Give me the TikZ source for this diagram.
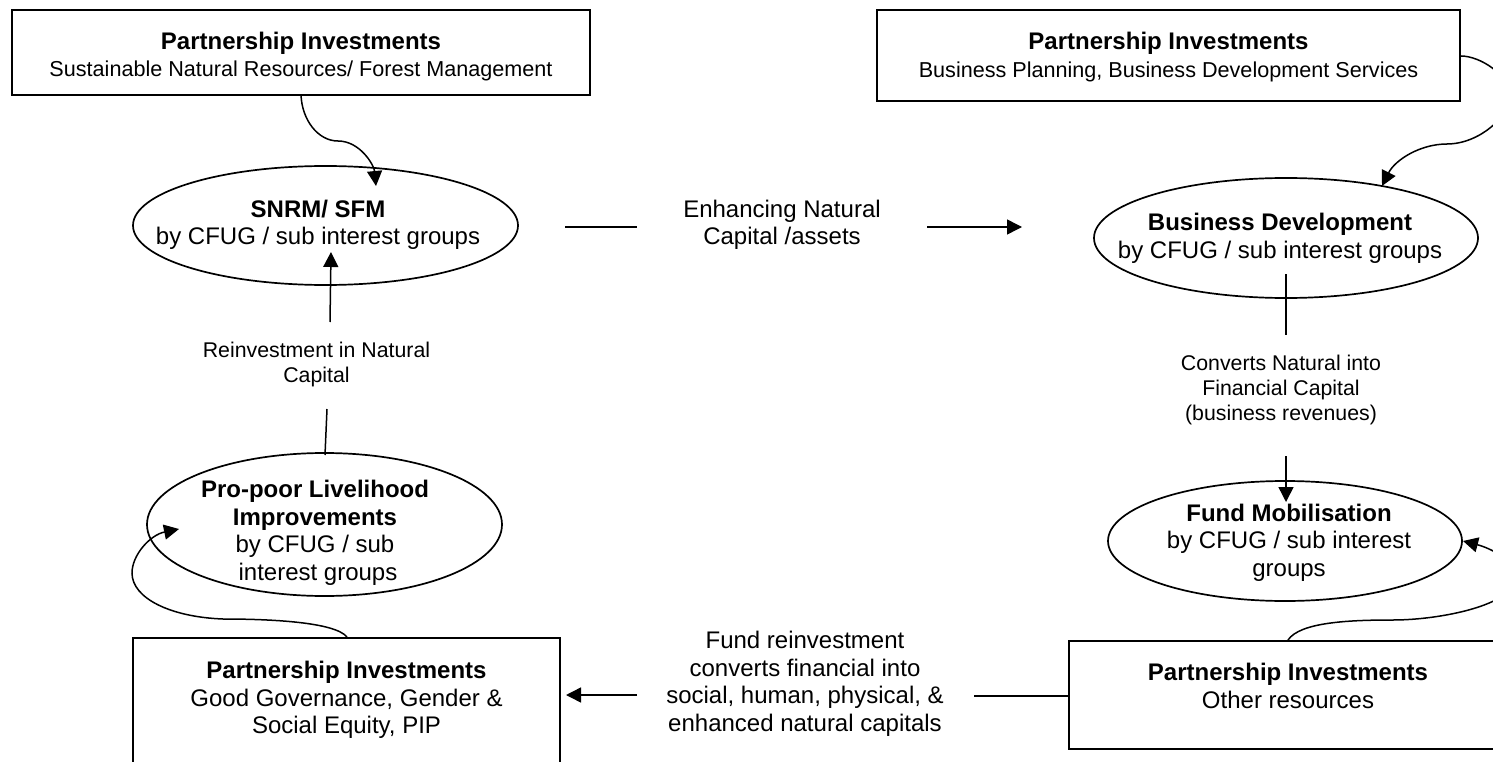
\documentclass[tikz,border=0pt]{standalone}
\usepackage{fontspec}
\setmainfont{Liberation Sans}
\usetikzlibrary{shapes.geometric,arrows.meta}
\newcommand{\txtlines}[3]{\makebox[0pt]{\kern#1\kern#1\raisebox{#2}[0pt][0pt]{\begin{tabular}{@{}c@{}}#3\end{tabular}}}}
\newcommand{\bigb}[1]{{\fontsize{24}{27.5}\selectfont\bfseries #1}}
\tikzset{
  x=1pt,y=-1pt,
  every node/.style={inner sep=0pt,outer sep=0pt},
  conn/.style={line width=1.5pt,black},
  arr/.style={conn,-{Triangle[length=15pt,width=15pt]}},
  mainfont/.style={font=\fontsize{24}{27.5}\selectfont},
  topfont/.style={font=\fontsize{21.6}{27.5}\selectfont},
  boxn/.style={draw,line width=1.7pt,rectangle,mainfont},
  topbox/.style={boxn,topfont},
  elln/.style={draw,line width=1.7pt,ellipse,mainfont},
  lab/.style={mainfont},
  smalllab/.style={font=\fontsize{21.3}{25}\selectfont}
}
\begin{document}
\begin{tikzpicture}
\useasboundingbox (0,0) rectangle (1493,762);
\fill[white] (0,0) rectangle (1493,762);
% boxes
\node[topbox,minimum width=578pt,minimum height=85pt] (b1) at (301,52.5) {\txtlines{0pt}{-10pt}{\bigb{Partnership Investments}\\Sustainable Natural Resources/ Forest Management}};
\node[topbox,minimum width=583pt,minimum height=91pt] (b2) at (1168.5,55.5) {\txtlines{0pt}{-7.5pt}{\bigb{Partnership Investments}\\Business Planning, Business Development Services}};
\node[boxn,minimum width=427pt,minimum height=126pt] (b3) at (346.5,701) {\txtlines{0pt}{-6pt}{\textbf{Partnership Investments}\\Good Governance, Gender \&\\Social Equity, PIP}};
\node[boxn,minimum width=438pt,minimum height=108pt] (b4) at (1288,695) {\txtlines{0pt}{0pt}{\textbf{Partnership Investments}\\Other resources}};
% ellipses
\node[elln,minimum width=385pt,minimum height=119pt] (snrm) at (325.5,225.5) {\txtlines{-7.5pt}{-6pt}{\textbf{SNRM/ SFM}\\by CFUG / sub interest groups}};
\node[elln,minimum width=384pt,minimum height=120pt] (bd) at (1286,238) {\txtlines{-6pt}{-7pt}{\textbf{Business Development}\\by CFUG / sub interest groups}};
\node[elln,minimum width=354pt,minimum height=120pt] (fm) at (1285,541) {\txtlines{4pt}{-8.5pt}{\textbf{Fund Mobilisation}\\by CFUG / sub interest\\groups}};
\node[elln,minimum width=355pt,minimum height=143pt] (pp) at (324.5,524.5) {\txtlines{-9.5pt}{-15pt}{\textbf{Pro-poor Livelihood}\\\textbf{Improvements}\\by CFUG / sub\\\hspace{6pt}interest groups}};
% labels
\node[lab] (l1) at (782,222.5) {\txtlines{0pt}{-9pt}{Enhancing Natural\\Capital /assets}};
\node[lab] (l2) at (805,682) {\txtlines{0pt}{-8.5pt}{Fund reinvestment\\converts financial into\\social, human, physical, \&\\enhanced natural capitals}};
\node[smalllab] (l3) at (316.5,362.5) {\txtlines{0pt}{-8pt}{Reinvestment in Natural\\Capital}};
\node[smalllab] (l4) at (1281,388) {\txtlines{0pt}{-7.5pt}{Converts Natural into\\Financial Capital\\(business revenues)}};
% free ends
\coordinate (a1) at (565,227); \coordinate (a2) at (637,227);
\coordinate (a3) at (927,227); \coordinate (a4) at (1022,227);
\coordinate (c1) at (637,695); \coordinate (c2) at (566,695);
\coordinate (c3) at (974,696);
\coordinate (d1) at (330,322); \coordinate (d2) at (331,252);
\coordinate (d3) at (327,409); \coordinate (d4) at (325,455);
\coordinate (f1) at (1286,274); \coordinate (f2) at (1286,335);
\coordinate (f3) at (1286,456); \coordinate (f4) at (1286,502);
% straight connectors
\draw[conn] (a1) -- (a2);
\draw[arr] (a3) -- (a4);
\draw[arr] (c1) -- (c2);
\draw[conn] (c3) -- (c3 -| b4.west);
\draw[arr] (d1) -- (d2);
\draw[conn] (d3) -- (d4);
\draw[conn] (f1) -- (f2);
\draw[arr] (f3) -- (f4);
% curved connectors
\coordinate (g1) at (301,95); \coordinate (g2) at (338,141); \coordinate (g3) at (376,186);
\draw[arr] (g1) .. controls (302,120) and (318,141) .. (g2) .. controls (360,141) and (374,165) .. (g3);
\coordinate (h1) at (1461,56); \coordinate (h2) at (1510,97); \coordinate (h3) at (1447,144); \coordinate (h4) at (1382,186);
\draw[arr] (h1) .. controls (1480,56) and (1510,75) .. (h2) .. controls (1510,115) and (1480,144) .. (h3) .. controls (1420,144) and (1395,160) .. (h4);
\coordinate (i1) at (1288,640); \coordinate (i2) at (1393,620); \coordinate (i3) at (1515,578); \coordinate (i4) at (1463,541);
\draw[arr] (i1) .. controls (1300,622) and (1350,620) .. (i2) .. controls (1440,620) and (1515,605) .. (i3) .. controls (1515,560) and (1490,548) .. (i4);
\coordinate (j1) at (347,637); \coordinate (j2) at (223,619); \coordinate (j3) at (132,573); \coordinate (j4) at (179,529);
\draw[arr] (j1) .. controls (335,622) and (270,619) .. (j2) .. controls (170,617) and (132,598) .. (j3) .. controls (132,555) and (150,535) .. (j4);
\end{tikzpicture}
\end{document}
